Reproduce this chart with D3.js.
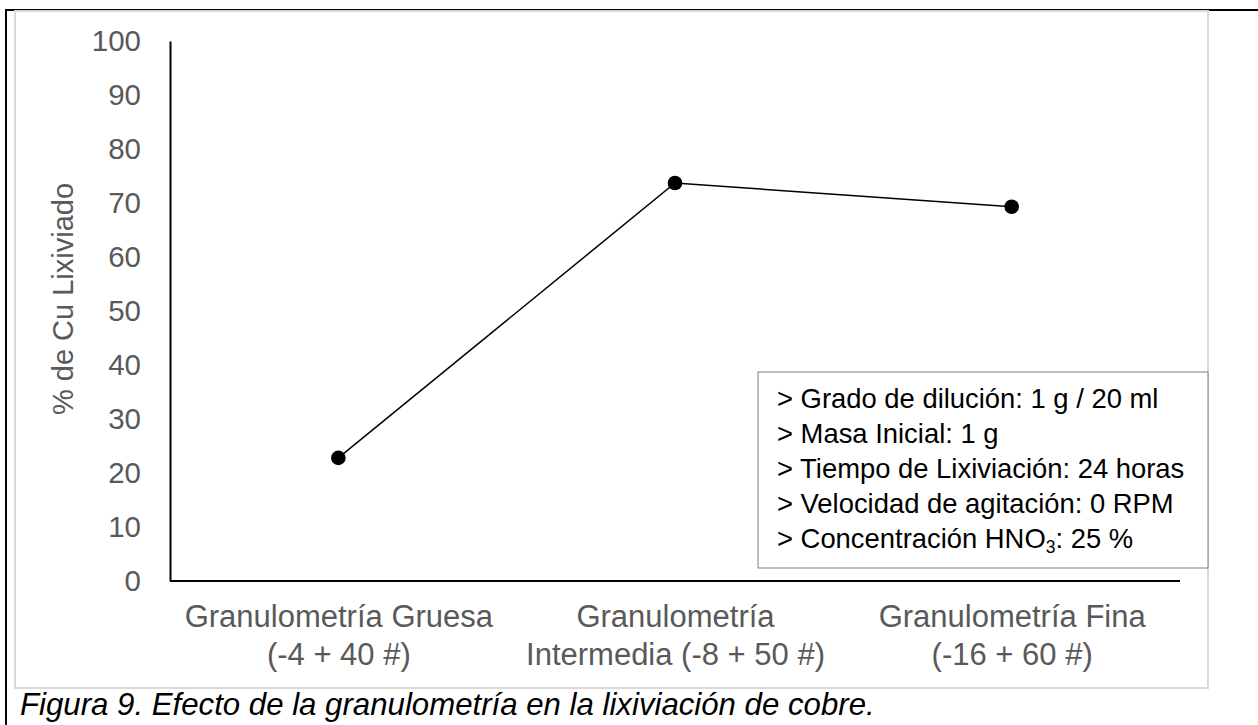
<!DOCTYPE html>
<html>
<head>
<meta charset="utf-8">
<script src="https://cdn.jsdelivr.net/npm/d3@7"></script>
<style>
	body { margin: 0; background: #fff; }
	text { font-family: "Liberation Sans", Arial, sans-serif; }
</style>
</head>
<body>
<div id="chartDiv"></div>
<script>
;(function() {

	// data
	var categories = ["gruesa", "intermedia", "fina"];
	var categoryLabels = [
		["Granulometría Gruesa", "(-4 + 40 #)"],
		["Granulometría", "Intermedia (-8 + 50 #)"],
		["Granulometría Fina", "(-16 + 60 #)"]
	];
	var cuLeached = [22.8, 73.7, 69.3];
	var yTicks = [0, 10, 20, 30, 40, 50, 60, 70, 80, 90, 100];
	var notes = [
		"> Grado de dilución: 1 g / 20 ml",
		"> Masa Inicial: 1 g",
		"> Tiempo de Lixiviación: 24 horas",
		"> Velocidad de agitación: 0 RPM",
		"> Concentración HNO|3|: 25 %"
	];
	var yAxisLabelHeader = "% de Cu Lixiviado";
	var caption = "Figura 9. Efecto de la granulometría en la lixiviación de cobre.";

	var width = 1258;
	var height = 725;
	var plot = { left: 170, right: 1180, top: 41, bottom: 581 };
	var gray = "#595959";

	var svg = d3.select("#chartDiv").append("svg")
		.attr("width", width)
		.attr("height", height);

	// outer document frame
	svg.append("line")
		.attr("x1", 5).attr("x2", width).attr("y1", 10).attr("y2", 10)
		.attr("stroke", "#000").attr("stroke-width", 2);
	svg.append("line")
		.attr("x1", 6).attr("x2", 6).attr("y1", 9).attr("y2", height)
		.attr("stroke", "#000").attr("stroke-width", 2);

	// chart area border
	svg.append("rect")
		.attr("x", 15).attr("y", 11)
		.attr("width", 1193).attr("height", 677)
		.attr("fill", "none")
		.attr("stroke", "#d9d9d9")
		.attr("stroke-width", 2);

	var xScale = d3.scalePoint()
		.domain(categories)
		.range([plot.left, plot.right])
		.padding(0.5);

	var yScale = d3.scaleLinear()
		.domain([0, 100])
		.range([plot.bottom, plot.top]);

	// y axis
	var yAxis = d3.axisLeft(yScale)
		.tickValues(yTicks)
		.tickSize(0)
		.tickPadding(29);

	var yAxisContainer = svg.append("g")
		.attr("transform", "translate(" + plot.left + ",0)")
		.call(yAxis);
	yAxisContainer.select(".domain")
		.attr("stroke", "#000").attr("stroke-width", 2);
	yAxisContainer.selectAll(".tick text")
		.attr("fill", gray)
		.style("font-size", "29.5px")
		.style("font-family", "'Liberation Sans', Arial, sans-serif");

	// x axis
	var xAxis = d3.axisBottom(xScale)
		.tickSize(0)
		.tickFormat("");

	var xAxisContainer = svg.append("g")
		.attr("transform", "translate(0," + plot.bottom + ")")
		.call(xAxis);
	xAxisContainer.select(".domain")
		.attr("d", "M" + plot.left + ",0H" + plot.right)
		.attr("stroke", "#000").attr("stroke-width", 2);

	xAxisContainer.selectAll(".tick")
		.append("text")
		.attr("fill", gray)
		.attr("text-anchor", "middle")
		.style("font-size", "31px")
		.selectAll("tspan")
		.data(function(d) { return categoryLabels[categories.indexOf(d)]; })
		.enter().append("tspan")
			.attr("x", 0)
			.attr("y", function(d, i) { return 46 + i * 38; })
			.text(function(d) { return d; });

	// y axis header label
	svg.append("text")
		.attr("fill", gray)
		.attr("text-anchor", "middle")
		.style("font-size", "29px")
		.attr("transform", "translate(73," + 299 + ") rotate(-90)")
		.text(yAxisLabelHeader);

	// series
	var points = categories.map(function(c, i) { return { cat: c, val: cuLeached[i] }; });

	var line = d3.line()
		.x(function(d) { return xScale(d.cat); })
		.y(function(d) { return yScale(d.val); });

	svg.append("path")
		.datum(points)
		.attr("d", line)
		.attr("fill", "none")
		.attr("stroke", "#000")
		.attr("stroke-width", 1.5);

	svg.selectAll(".dot")
		.data(points)
		.enter().append("circle")
			.attr("class", "dot")
			.attr("cx", function(d) { return xScale(d.cat); })
			.attr("cy", function(d) { return yScale(d.val); })
			.attr("r", 7.3)
			.attr("fill", "#000");

	// notes box
	var box = svg.append("g")
		.attr("transform", "translate(758,372)");
	box.append("rect")
		.attr("x", 0).attr("y", 0)
		.attr("width", 450).attr("height", 196)
		.attr("fill", "#fff")
		.attr("stroke", "#7f7f7f")
		.attr("stroke-width", 1);

	box.selectAll(".note")
		.data(notes)
		.enter().append("text")
			.attr("class", "note")
			.attr("x", 19)
			.attr("y", function(d, i) { return 36 + i * 35; })
			.attr("fill", "#000")
			.style("font-size", "27.4px")
			.each(function(d) {
				var parts = d.split("|");
				var t = d3.select(this);
				parts.forEach(function(p, k) {
					var span = t.append("tspan").text(p);
					if (k === 1) {
						span.attr("dy", 5).style("font-size", "17.5px");
					} else if (k === 2) {
						span.attr("dy", -5);
					}
				});
			});

	// caption
	svg.append("text")
		.attr("x", 20)
		.attr("y", 715)
		.attr("fill", "#000")
		.style("font-size", "31.2px")
		.style("font-style", "italic")
		.text(caption);

})();
</script>
</body>
</html>
